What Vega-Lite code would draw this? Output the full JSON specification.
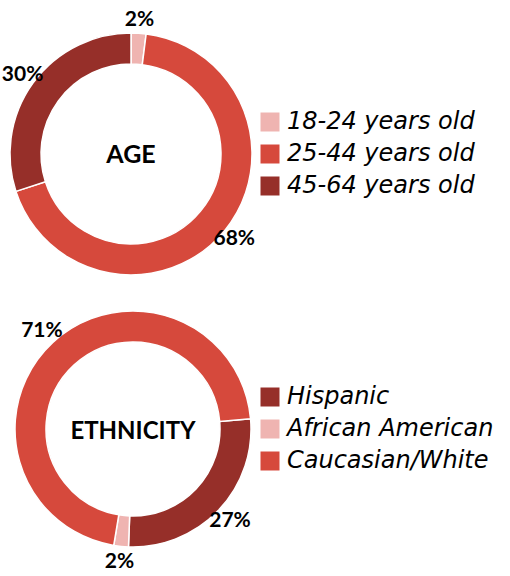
{
  "$schema": "https://vega.github.io/schema/vega-lite/v6.json",
  "background": "white",
  "padding": {"left": 1, "top": 9, "right": 0, "bottom": 0},
  "spacing": 35,
  "bounds": "flush",
  "config": {
    "view": {"stroke": null},
    "legend": {
      "symbolType": "square",
      "symbolSize": 361,
      "symbolStrokeWidth": 0,
      "symbolOpacity": 1,
      "labelFont": "DejaVu Sans",
      "labelFontStyle": "italic",
      "labelFontSize": 24,
      "labelColor": "black",
      "labelLimit": 0,
      "labelOffset": 5,
      "rowPadding": 8
    }
  },
  "vconcat": [
    {
      "width": 244,
      "height": 244,
      "data": {
        "values": [
          {"group": "18-24 years old", "value": 0.02, "k": 1},
          {"group": "25-44 years old", "value": 0.68, "k": 2},
          {"group": "45-64 years old", "value": 0.30, "k": 3}
        ]
      },
      "layer": [
        {
          "mark": {"type": "arc", "outerRadius": 121, "innerRadius": 90, "stroke": "white", "strokeWidth": 1.5},
          "encoding": {
            "theta": {"field": "value", "type": "quantitative", "stack": true},
            "order": {"field": "k", "type": "quantitative"},
            "color": {
              "field": "group",
              "type": "nominal",
              "scale": {
                "domain": ["18-24 years old", "25-44 years old", "45-64 years old"],
                "range": ["#EFB4B1", "#D6493C", "#962F29"]
              },
              "legend": {"orient": "none", "legendX": 249, "legendY": 78, "title": null}
            }
          }
        },
        {
          "mark": {"type": "text", "radius": 134, "font": "Lato", "fontWeight": "bold", "fontSize": 21, "color": "black"},
          "encoding": {
            "theta": {"field": "value", "type": "quantitative", "stack": true},
            "order": {"field": "k", "type": "quantitative"},
            "text": {"field": "value", "type": "quantitative", "format": ".0%"}
          }
        },
        {
          "data": {"values": [{"title": "AGE"}]},
          "mark": {"type": "text", "font": "Lato", "fontWeight": "bold", "fontSize": 25, "baseline": "middle", "dy": 1, "color": "black"},
          "encoding": {"text": {"field": "title", "type": "nominal"}}
        }
      ]
    },
    {
      "width": 248,
      "height": 236,
      "data": {
        "values": [
          {"group": "Hispanic", "value": 0.27, "k": 1},
          {"group": "African American", "value": 0.02, "k": 2},
          {"group": "Caucasian/White", "value": 0.71, "k": 3}
        ]
      },
      "layer": [
        {
          "mark": {"type": "arc", "outerRadius": 118, "innerRadius": 87, "stroke": "white", "strokeWidth": 1.5},
          "encoding": {
            "theta": {"field": "value", "type": "quantitative", "stack": true, "scale": {"range": [1.4835, 7.7667]}},
            "order": {"field": "k", "type": "quantitative"},
            "color": {
              "field": "group",
              "type": "nominal",
              "scale": {
                "domain": ["Hispanic", "African American", "Caucasian/White"],
                "range": ["#962F29", "#EFB4B1", "#D6493C"]
              },
              "legend": {"orient": "none", "legendX": 249, "legendY": 74, "title": null}
            }
          }
        },
        {
          "mark": {"type": "text", "radius": 134, "font": "Lato", "fontWeight": "bold", "fontSize": 21, "color": "black"},
          "encoding": {
            "theta": {"field": "value", "type": "quantitative", "stack": true, "scale": {"range": [1.4835, 7.7667]}},
            "order": {"field": "k", "type": "quantitative"},
            "text": {"field": "value", "type": "quantitative", "format": ".0%"}
          }
        },
        {
          "data": {"values": [{"title": "ETHNICITY"}]},
          "mark": {"type": "text", "font": "Lato", "fontWeight": "bold", "fontSize": 24, "baseline": "middle", "dy": 3, "color": "black"},
          "encoding": {"text": {"field": "title", "type": "nominal"}}
        }
      ]
    }
  ],
  "resolve": {
    "scale": {"color": "independent", "theta": "independent"},
    "legend": {"color": "independent"}
  }
}
